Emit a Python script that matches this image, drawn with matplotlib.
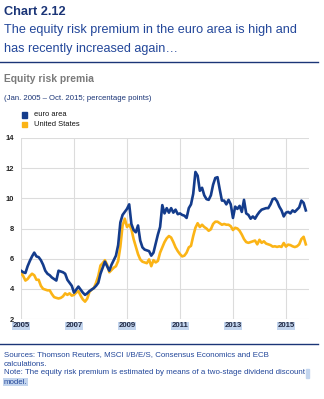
import numpy as np
import matplotlib
matplotlib.use("Agg")
import matplotlib.pyplot as plt

plt.rcParams['font.family'] = ['Liberation Sans', 'DejaVu Sans']

# monthly equity risk premia, Jan 2005 - Oct 2015 (percentage points)
euro_area = [
    5.2, 5.1, 5.05, 5.5, 5.85, 6.15, 6.4, 6.15, 6.1, 5.9, 5.6, 5.2,
    5.0, 4.9, 4.75, 4.65, 4.55, 5.2, 5.15, 5.1, 5.0, 4.6, 4.4, 4.2,
    3.75, 3.95, 4.15, 3.95, 3.75, 3.6, 3.7, 3.85, 3.95, 4.05, 4.2, 4.4,
    5.0, 5.4, 5.8, 5.5, 5.2, 5.6, 5.9, 6.2, 6.9, 8.4, 8.9, 9.1,
    9.3, 9.6, 8.3, 7.9, 7.75, 8.2, 7.2, 6.75, 6.6, 6.55, 6.5, 6.2,
    6.4, 7.0, 7.6, 8.1, 9.55, 9.0, 9.35, 9.05, 9.35, 9.05, 9.25, 8.95,
    9.0, 8.9, 8.85, 8.7, 9.35, 9.6, 10.3, 11.75, 11.5, 10.5, 10.7, 10.2,
    9.95, 9.9, 10.2, 10.9, 11.35, 11.4, 10.6, 9.85, 9.85, 9.6, 9.9, 9.6,
    8.7, 9.45, 9.3, 9.5, 9.1, 9.9, 9.0, 8.9, 8.65, 8.8, 8.65, 8.9,
    9.1, 9.25, 9.3, 9.35, 9.35, 9.6, 9.95, 10.0, 9.8, 9.45, 9.2, 8.8,
    9.05, 9.1, 9.0, 9.2, 9.1, 9.25, 9.4, 9.85, 9.7, 9.2,
]
united_states = [
    5.05, 4.85, 4.55, 4.65, 4.85, 5.0, 4.9, 4.6, 4.6, 4.2, 4.0, 3.95,
    3.9, 3.9, 3.65, 3.45, 3.4, 3.36, 3.4, 3.5, 3.7, 3.6, 3.7, 3.55,
    3.6, 3.75, 3.85, 3.55, 3.3, 3.15, 3.35, 3.8, 3.95, 4.05, 4.4, 4.85,
    5.55, 5.7, 5.9, 5.6, 5.1, 5.25, 5.4, 5.5, 5.85, 6.8, 8.2, 8.65,
    8.1, 8.25, 7.95, 7.3, 6.8, 6.3, 5.95, 5.8, 5.75, 5.7, 5.95, 5.5,
    5.9, 5.75, 5.85, 6.4, 6.75, 7.1, 7.35, 7.5, 7.4, 7.1, 6.75, 6.5,
    6.3, 6.15, 6.2, 6.4, 6.75, 6.85, 7.5, 8.05, 8.35, 8.1, 8.25, 8.1,
    8.0, 7.85, 7.95, 8.3, 8.45, 8.45, 8.35, 8.25, 8.3, 8.25, 8.25, 8.15,
    7.9, 8.05, 8.0, 7.85, 7.6, 7.3, 7.1, 7.05, 7.1, 7.15, 7.2, 6.95,
    7.25, 7.05, 7.15, 7.0, 6.95, 6.9, 6.8, 6.82, 6.78, 6.82, 6.78, 7.04,
    6.8, 6.93, 6.9, 6.82, 6.77, 6.82, 6.95, 7.3, 7.45, 6.95,
]
series_names = ["euro area", "United States"]
year_ticks = [2005, 2007, 2009, 2011, 2013, 2015]
value_ticks = [2, 4, 6, 8, 10, 12, 14]

navy = "#1b3577"
text_blue = "#23479a"
euro_col = "#143c8c"
us_col = "#fbb416"
highlight = "#c3d5ee"

W, H = 324, 399
fig = plt.figure(figsize=(W / 100, H / 100), dpi=100)
fig.patch.set_facecolor("white")


def fx(px):
    return px / W


def fy(py):
    return 1 - py / H


# header
fig.text(fx(4), fy(12), "Chart 2.12", fontsize=9.2, fontweight="bold",
         color=navy, va="center")
fig.text(fx(4), fy(30), "The equity risk premium in the euro area is high and",
         fontsize=9.1, color=text_blue, va="center")
fig.text(fx(4), fy(49), "has recently increased again\u2026",
         fontsize=9.1, color=text_blue, va="center")
fig.add_artist(plt.Line2D([0, fx(318)], [fy(62), fy(62)], color=navy, lw=1.0))

fig.text(fx(4), fy(79), "Equity risk premia", fontsize=7.4, fontweight="bold",
         color="#7a7a7a", va="center")
fig.text(fx(4), fy(99), "(Jan. 2005 \u2013 Oct. 2015; percentage points)",
         fontsize=5.6, color=navy, va="center")

# legend swatches
for i, (name, col) in enumerate(zip(series_names, [euro_col, us_col])):
    yy = 115 + i * 9
    fig.add_artist(plt.Rectangle((fx(22), fy(yy + 2.5)), 5 / W, 5 / H,
                                 color=col, transform=fig.transFigure))
    fig.text(fx(34), fy(yy), name, fontsize=5.4, color="#111111", va="center")

# plot area
ax = fig.add_axes([fx(21), fy(319), fx(309) - fx(21), fy(138) - fy(319)])
t = 2005 + np.arange(len(euro_area)) / 12
ax.plot(t, united_states, color=us_col, lw=1.9, solid_joinstyle="round", zorder=3)
ax.plot(t, euro_area, color=euro_col, lw=1.9, solid_joinstyle="round", zorder=4)

ax.set_xlim(2005, 2015.87)
ax.set_ylim(2, 14)
ax.set_xticks(year_ticks)
ax.set_yticks(value_ticks)
ax.grid(True, color="#dcdcdc", lw=0.8)
ax.set_axisbelow(True)
for s in ax.spines.values():
    s.set_visible(False)
ax.tick_params(axis="y", length=0, pad=5)
ax.tick_params(axis="x", length=0, pad=2.5)
ax.set_yticklabels([str(v) for v in value_ticks], fontsize=5.4,
                   fontweight="bold", color="#222222")
ax.set_xticklabels([str(v) for v in year_ticks], fontsize=5.6,
                   fontweight="bold", color="#222a44")
for lab in ax.get_xticklabels():
    lab.set_bbox(dict(facecolor=highlight, edgecolor="none", pad=0.5))

# footer
fig.add_artist(plt.Line2D([0, fx(318)], [fy(344), fy(344)], color=navy, lw=1.0))
foot = [
    "Sources: Thomson Reuters, MSCI I/B/E/S, Consensus Economics and ECB",
    "calculations.",
    "Note: The equity risk premium is estimated by means of a two-stage dividend discount",
]
for i, line in enumerate(foot):
    fig.text(fx(4), fy(355 + i * 9), line, fontsize=5.7, color=text_blue,
             va="center")
fig.text(fx(4), fy(382), "model.", fontsize=5.7, color=text_blue, va="center",
         bbox=dict(facecolor=highlight, edgecolor="none", pad=0.5))
fig.add_artist(plt.Rectangle((fx(306), fy(378)), 3 / W, 9 / H, color=highlight,
                             transform=fig.transFigure, zorder=0))

fig.savefig("out.png", dpi=100)
